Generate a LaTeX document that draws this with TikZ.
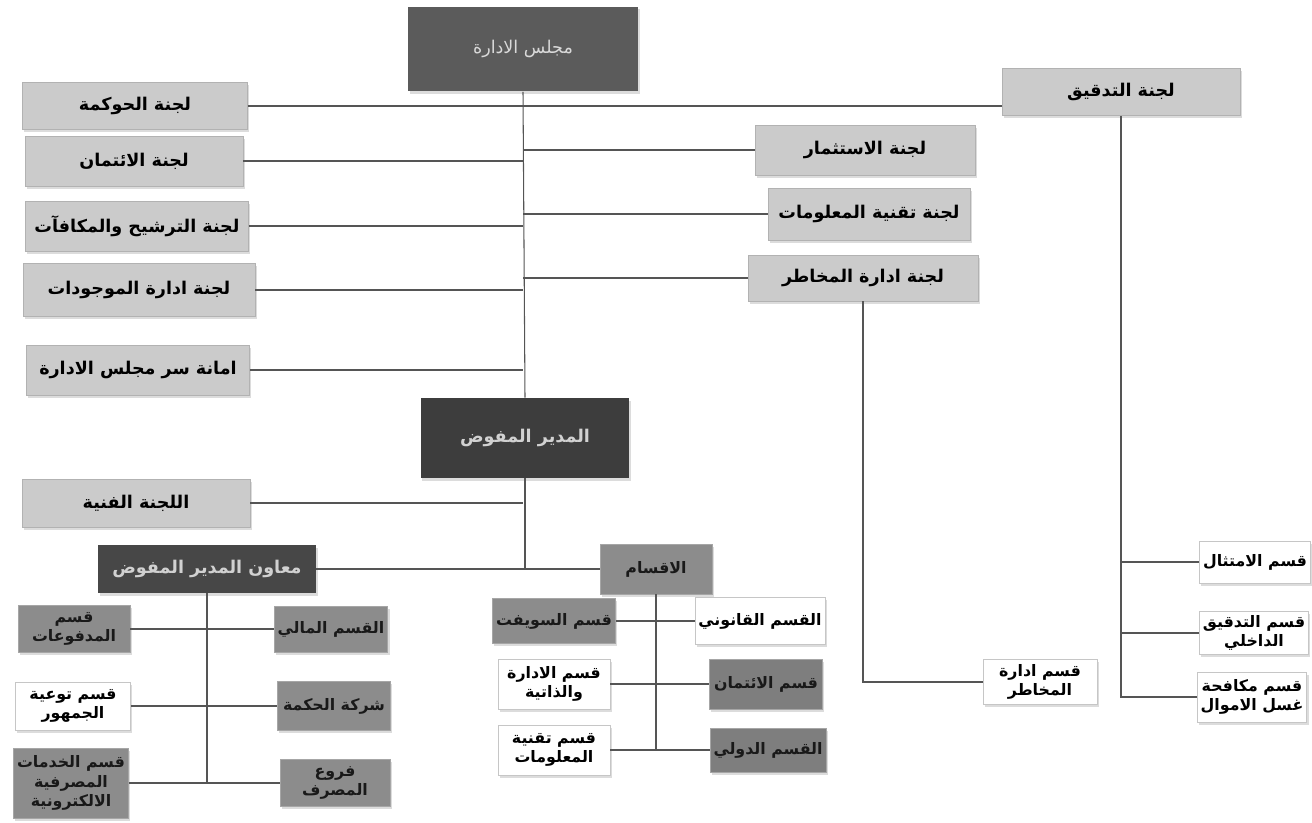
\documentclass[tikz,border=0pt]{standalone}
\usepackage{fontspec}
\usetikzlibrary{positioning,shadows}
\newfontfamily\arabicfont[Script=Arabic]{DejaVu Sans}
\TeXXeTstate=1
\newcommand{\ar}[1]{\beginR #1\endR}
\definecolor{boardgray}{HTML}{5B5B5B}
\definecolor{chiefgray}{HTML}{3D3D3D}
\definecolor{commgray}{HTML}{CBCBCB}
\definecolor{deptgray}{HTML}{8C8C8C}
\definecolor{linegray}{HTML}{555555}

\begin{document}
\begin{tikzpicture}[x=0.02cm, y=-0.02cm,
  box/.style={inner sep=2pt, align=center, font=\arabicfont\bfseries\fontsize{10}{12}\selectfont,
    drop shadow={shadow xshift=1pt, shadow yshift=-1.6pt, fill=gray!55}},
  topbox/.style={box, fill=boardgray, text=white!85!black, font=\arabicfont\fontsize{10}{12}\selectfont},
  chiefbox/.style={box, fill=chiefgray, text=white!82!black},
  commbox/.style={box, fill=commgray, draw=gray!60, text=black},
  deptbox/.style={box, fill=deptgray, draw=gray!70, text=black!90, font=\arabicfont\bfseries\fontsize{9}{11}\selectfont},
  whitebox/.style={box, fill=white, draw=gray!45, text=black, font=\arabicfont\bfseries\fontsize{9}{11}\selectfont},
  link/.style={draw=linegray, line width=0.6pt}
  ]
  \useasboundingbox (0,0) rectangle (1312,822);

  % board and committees
  \node[topbox, minimum width=4.6cm, minimum height=1.7cm] (board) at (523,49) {\ar{مجلس الادارة}};

  \node[commbox, minimum width=4.5cm, minimum height=0.94cm] (gov) at (135,106) {\ar{لجنة الحوكمة}};
  \node[commbox, minimum width=4.36cm, minimum height=1cm] (credit) at (134,161) {\ar{لجنة الائتمان}};
  \node[commbox, minimum width=4.46cm, minimum height=1cm] (nomin) at (137,226) {\ar{لجنة الترشيح والمكافآت}};
  \node[commbox, minimum width=4.64cm, minimum height=1.06cm] (assets) at (139,290) {\ar{لجنة ادارة الموجودات}};
  \node[commbox, minimum width=4.46cm, minimum height=1cm] (secr) at (138,370) {\ar{امانة سر مجلس الادارة}};

  \node[commbox, minimum width=4.76cm, minimum height=0.94cm] (audit) at (1121,92) {\ar{لجنة التدقيق}};
  \node[commbox, minimum width=4.4cm, minimum height=1cm] (invest) at (865,150) {\ar{لجنة الاستثمار}};
  \node[commbox, minimum width=4.04cm, minimum height=1.04cm] (itcomm) at (869,214) {\ar{لجنة تقنية المعلومات}};
  \node[commbox, minimum width=4.6cm, minimum height=0.92cm] (riskcomm) at (863,278) {\ar{لجنة ادارة المخاطر}};

  % managing director
  \node[chiefbox, minimum width=4.18cm, minimum height=1.6cm] (chief) at (525,438) {\ar{المدير المفوض}};
  \node[commbox, minimum width=4.56cm, minimum height=0.96cm] (techcomm) at (136,503) {\ar{اللجنة الفنية}};
  \node[chiefbox, fill=black!72, minimum width=4.36cm, minimum height=0.96cm] (deputy) at (207,569) {\ar{معاون المدير المفوض}};
  \node[deptbox, minimum width=2.24cm, minimum height=1cm] (depts) at (656,569) {\ar{الاقسام}};

  % deputy sections
  \node[deptbox, minimum width=2.24cm, minimum height=0.94cm] (pay) at (74,629) {\ar{قسم}\\\ar{المدفوعات}};
  \node[deptbox, minimum width=2.24cm, minimum height=0.92cm] (fin) at (331,629) {\ar{القسم المالي}};
  \node[whitebox, minimum width=2.3cm, minimum height=0.96cm] (aware) at (73,706) {\ar{قسم توعية}\\\ar{الجمهور}};
  \node[deptbox, minimum width=2.26cm, minimum height=0.98cm] (hikma) at (334,706) {\ar{شركة الحكمة}};
  \node[deptbox, minimum width=2.24cm, minimum height=1.4cm] (eserv) at (71,783) {\ar{قسم الخدمات}\\\ar{المصرفية}\\\ar{الالكترونية}};
  \node[deptbox, minimum width=2.2cm, minimum height=0.94cm] (branch) at (335,783) {\ar{فروع}\\\ar{المصرف}};

  % departments
  \node[deptbox, minimum width=2.24cm, minimum height=0.9cm] (swift) at (554,621) {\ar{قسم السويفت}};
  \node[whitebox, minimum width=2.1cm, minimum height=0.94cm] (legal) at (760,621) {\ar{القسم القانوني}};
  \node[whitebox, minimum width=2.24cm, minimum height=1cm] (admin) at (554,684) {\ar{قسم الادارة}\\\ar{والذاتية}};
  \node[deptbox, fill=deptgray!90!black, minimum width=2.26cm, minimum height=1cm] (creditdept) at (766,684) {\ar{قسم الائتمان}};
  \node[whitebox, minimum width=2.24cm, minimum height=1cm] (itdept) at (554,750) {\ar{قسم تقنية}\\\ar{المعلومات}};
  \node[deptbox, fill=deptgray!90!black, minimum width=2.26cm, minimum height=0.88cm] (intl) at (768,750) {\ar{القسم الدولي}};

  % risk and audit sections
  \node[whitebox, minimum width=2.28cm, minimum height=0.9cm] (riskdept) at (1040,682) {\ar{قسم ادارة}\\\ar{المخاطر}};
  \node[whitebox, minimum width=2.1cm, minimum height=0.84cm] (comp) at (1255,562) {\ar{قسم الامتثال}};
  \node[whitebox, minimum width=2.16cm, minimum height=0.86cm] (internal) at (1254,633) {\ar{قسم التدقيق}\\\ar{الداخلي}};
  \node[whitebox, minimum width=2.1cm, minimum height=1cm] (aml) at (1252,697) {\ar{قسم مكافحة}\\\ar{غسل الاموال}};

  \coordinate (split) at (525,569);

  % connectors
  \begin{scope}[on background layer/.try]
  \draw[link] (board.south) -- (chief.north);
  \draw[link] (chief.south) -- (split);
  \draw[link] (gov.east) -- (gov.east -| audit.west);
  \foreach \n in {credit,nomin,assets,secr,techcomm}
    \draw[link] (\n.east) -- (\n.east -| board.south);
  \foreach \n in {invest,itcomm,riskcomm}
    \draw[link] (\n.west) -- (\n.west -| board.south);
  \draw[link] (deputy.east) -- (depts.west);

  \draw[link] (deputy.south) -- (deputy.south |- branch.west);
  \draw[link] (pay.east) -- (fin.west);
  \draw[link] (aware.east) -- (hikma.west);
  \draw[link] (eserv.east) -- (branch.west);

  \draw[link] (depts.south) -- (depts.south |- intl.west);
  \draw[link] (swift.east) -- (legal.west);
  \draw[link] (admin.east) -- (creditdept.west);
  \draw[link] (itdept.east) -- (intl.west);

  \draw[link] (riskcomm.south) -- (riskcomm.south |- riskdept.west) -- (riskdept.west);
  \draw[link] (audit.south) -- (audit.south |- aml.west) -- (aml.west);
  \draw[link] (audit.south |- comp.west) -- (comp.west);
  \draw[link] (audit.south |- internal.west) -- (internal.west);
  \end{scope}
\end{tikzpicture}
\end{document}
